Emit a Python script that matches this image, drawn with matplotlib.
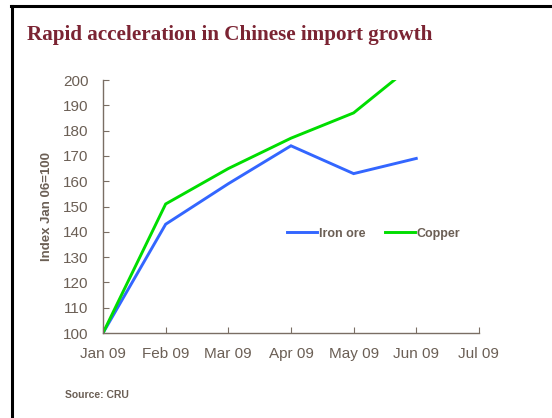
import numpy as np
import matplotlib.pyplot as plt
from matplotlib.lines import Line2D

# Monthly import index values (Jan 06 = 100 rebased to Jan 09)
months = ['Jan 09', 'Feb 09', 'Mar 09', 'Apr 09', 'May 09', 'Jun 09', 'Jul 09']
iron_ore = [100, 143, 159, 174, 163, 169]
copper = [100, 151, 165, 177, 187, 207]
y_ticks = list(range(100, 201, 10))

text_col = '#6b5f55'
axis_col = '#7a6e64'

fig = plt.figure(figsize=(5.52, 4.18), dpi=100)
ax = fig.add_axes([0.1866, 0.2033, 0.681, 0.6053])

x = np.arange(len(iron_ore))
ax.plot(x, iron_ore, color='#3366ff', lw=2.1, label='Iron ore', solid_joinstyle='miter')
ax.plot(x, copper, color='#00dd00', lw=2.1, label='Copper', solid_joinstyle='miter')

ax.set_xlim(0, len(months) - 1)
ax.set_ylim(100, 200)
ax.set_xticks(range(len(months)))
ax.set_xticklabels(months)
ax.set_yticks(y_ticks)

for side in ['top', 'right']:
    ax.spines[side].set_visible(False)
for side in ['left', 'bottom']:
    ax.spines[side].set_color(axis_col)
    ax.spines[side].set_linewidth(1.0)

ax.tick_params(axis='both', direction='in', length=4, width=0.8, color=axis_col,
               labelcolor=text_col, labelsize=11)
ax.tick_params(axis='x', pad=10)
ax.tick_params(axis='y', pad=10.5)
for lbl in ax.get_xticklabels() + ax.get_yticklabels():
    lbl.set_family('Liberation Sans')

ax.set_ylabel('Index Jan 06=100', fontsize=9.5, fontweight='bold', color=text_col,
              family='Liberation Sans', labelpad=7)

ax.legend(loc='center', bbox_to_anchor=(0.72, 0.393), ncol=2, frameon=False,
          prop={'family': 'Liberation Sans', 'weight': 'bold', 'size': 9},
          labelcolor=text_col, handlelength=2.4, handletextpad=0.15, columnspacing=1.6)

fig.text(0.049, 0.917, 'Rapid acceleration in Chinese import growth', fontsize=15.2,
         fontweight='bold', color='#7b2433', family='Liberation Serif', va='center')
fig.text(0.118, 0.056, 'Source: CRU', fontsize=7.5, fontweight='bold', color=text_col,
         family='Liberation Sans', va='center')

# frame lines along the top and left edge
fig.add_artist(Line2D([0.02, 1.0], [0.986, 0.986], color='black', lw=2.2,
                      transform=fig.transFigure))
fig.add_artist(Line2D([0.021, 0.021], [0.0, 0.986], color='black', lw=2.2,
                      transform=fig.transFigure))

fig.savefig('out.png', dpi=100)
